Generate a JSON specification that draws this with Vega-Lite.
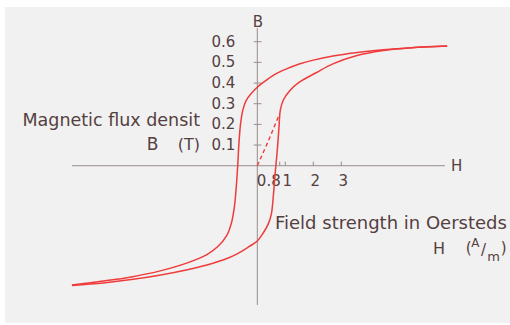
{
  "$schema": "https://vega.github.io/schema/vega-lite/v6.json",
  "width": 505,
  "height": 316,
  "autosize": {"type": "none"},
  "padding": {"left": 5, "top": 7, "right": 0, "bottom": 2},
  "background": "#ffffff",
  "view": {"fill": "#f1f1f1", "stroke": null},
  "config": {
    "text": {"font": "DejaVu Sans", "color": "#544040"}
  },
  "datasets": {
    "loop": [
      {"branch": "descending", "i": 0, "H": 6.78, "B": 0.579},
      {"branch": "descending", "i": 1, "H": 5.5, "B": 0.571},
      {"branch": "descending", "i": 2, "H": 4.5, "B": 0.561},
      {"branch": "descending", "i": 3, "H": 3.5, "B": 0.547},
      {"branch": "descending", "i": 4, "H": 2.7, "B": 0.531},
      {"branch": "descending", "i": 5, "H": 2.0, "B": 0.511},
      {"branch": "descending", "i": 6, "H": 1.5, "B": 0.492},
      {"branch": "descending", "i": 7, "H": 1.0, "B": 0.466},
      {"branch": "descending", "i": 8, "H": 0.6, "B": 0.440},
      {"branch": "descending", "i": 9, "H": 0.3, "B": 0.412},
      {"branch": "descending", "i": 10, "H": 0.0, "B": 0.380},
      {"branch": "descending", "i": 11, "H": -0.2, "B": 0.352},
      {"branch": "descending", "i": 12, "H": -0.4, "B": 0.315},
      {"branch": "descending", "i": 13, "H": -0.52, "B": 0.268},
      {"branch": "descending", "i": 14, "H": -0.6, "B": 0.200},
      {"branch": "descending", "i": 15, "H": -0.66, "B": 0.100},
      {"branch": "descending", "i": 16, "H": -0.70, "B": 0.000},
      {"branch": "descending", "i": 17, "H": -0.75, "B": -0.100},
      {"branch": "descending", "i": 18, "H": -0.82, "B": -0.200},
      {"branch": "descending", "i": 19, "H": -0.93, "B": -0.280},
      {"branch": "descending", "i": 20, "H": -1.1, "B": -0.340},
      {"branch": "descending", "i": 21, "H": -1.4, "B": -0.390},
      {"branch": "descending", "i": 22, "H": -1.8, "B": -0.430},
      {"branch": "descending", "i": 23, "H": -2.5, "B": -0.470},
      {"branch": "descending", "i": 24, "H": -3.5, "B": -0.510},
      {"branch": "descending", "i": 25, "H": -4.5, "B": -0.538},
      {"branch": "descending", "i": 26, "H": -5.5, "B": -0.558},
      {"branch": "descending", "i": 27, "H": -6.62, "B": -0.577},
      {"branch": "ascending", "i": 0, "H": -6.62, "B": -0.579},
      {"branch": "ascending", "i": 1, "H": -5.5, "B": -0.567},
      {"branch": "ascending", "i": 2, "H": -4.5, "B": -0.551},
      {"branch": "ascending", "i": 3, "H": -3.5, "B": -0.530},
      {"branch": "ascending", "i": 4, "H": -2.5, "B": -0.503},
      {"branch": "ascending", "i": 5, "H": -1.8, "B": -0.480},
      {"branch": "ascending", "i": 6, "H": -1.2, "B": -0.455},
      {"branch": "ascending", "i": 7, "H": -0.7, "B": -0.425},
      {"branch": "ascending", "i": 8, "H": -0.3, "B": -0.392},
      {"branch": "ascending", "i": 9, "H": 0.0, "B": -0.364},
      {"branch": "ascending", "i": 10, "H": 0.2, "B": -0.328},
      {"branch": "ascending", "i": 11, "H": 0.38, "B": -0.285},
      {"branch": "ascending", "i": 12, "H": 0.5, "B": -0.235},
      {"branch": "ascending", "i": 13, "H": 0.57, "B": -0.150},
      {"branch": "ascending", "i": 14, "H": 0.63, "B": -0.050},
      {"branch": "ascending", "i": 15, "H": 0.69, "B": 0.040},
      {"branch": "ascending", "i": 16, "H": 0.74, "B": 0.120},
      {"branch": "ascending", "i": 17, "H": 0.78, "B": 0.200},
      {"branch": "ascending", "i": 18, "H": 0.82, "B": 0.268},
      {"branch": "ascending", "i": 19, "H": 0.93, "B": 0.318},
      {"branch": "ascending", "i": 20, "H": 1.15, "B": 0.362},
      {"branch": "ascending", "i": 21, "H": 1.5, "B": 0.404},
      {"branch": "ascending", "i": 22, "H": 2.1, "B": 0.450},
      {"branch": "ascending", "i": 23, "H": 2.7, "B": 0.493},
      {"branch": "ascending", "i": 24, "H": 3.5, "B": 0.531},
      {"branch": "ascending", "i": 25, "H": 4.5, "B": 0.557},
      {"branch": "ascending", "i": 26, "H": 5.5, "B": 0.571},
      {"branch": "ascending", "i": 27, "H": 6.78, "B": 0.579}
    ],
    "initial": [
      {"i": 0, "H": 0.0, "B": 0.0},
      {"i": 1, "H": 0.38, "B": 0.115},
      {"i": 2, "H": 0.76, "B": 0.24}
    ],
    "bTicks": [
      {"B": 0.1, "label": "0.1"},
      {"B": 0.2, "label": "0.2"},
      {"B": 0.3, "label": "0.3"},
      {"B": 0.4, "label": "0.4"},
      {"B": 0.5, "label": "0.5"},
      {"B": 0.6, "label": "0.6"}
    ],
    "hTicks": [
      {"H": 0.8, "label": "0.8"},
      {"H": 1, "label": "1"},
      {"H": 2, "label": "2"},
      {"H": 3, "label": "3"}
    ],
    "one": [{}]
  },
  "encoding": {
    "x": {"type": "quantitative", "scale": {"domain": [-9.011, 9.025], "nice": false, "zero": false}, "axis": null},
    "y": {"type": "quantitative", "scale": {"domain": [-0.761, 0.768], "nice": false, "zero": false}, "axis": null}
  },
  "layer": [
    {
      "data": {"name": "one"},
      "mark": {"type": "rule", "color": "#9a8c8c", "strokeWidth": 1},
      "encoding": {"x": {"datum": -6.62}, "x2": {"datum": 6.70}, "y": {"datum": 0}}
    },
    {
      "data": {"name": "one"},
      "mark": {"type": "rule", "color": "#9a8c8c", "strokeWidth": 1},
      "encoding": {"x": {"datum": 0}, "y": {"datum": -0.674}, "y2": {"datum": 0.666}}
    },
    {
      "data": {"name": "bTicks"},
      "mark": {"type": "rule", "color": "#9a8c8c", "strokeWidth": 1},
      "encoding": {"x": {"datum": -0.13}, "x2": {"datum": 0.15}, "y": {"field": "B", "type": "quantitative"}}
    },
    {
      "data": {"name": "hTicks"},
      "mark": {"type": "rule", "color": "#9a8c8c", "strokeWidth": 1},
      "encoding": {"x": {"field": "H", "type": "quantitative"}, "y": {"datum": 0}, "y2": {"datum": 0.02}}
    },
    {
      "data": {"name": "bTicks"},
      "mark": {"type": "text", "align": "right", "baseline": "middle", "fontSize": 15, "dx": -22},
      "encoding": {"x": {"datum": 0}, "y": {"field": "B", "type": "quantitative"}, "text": {"field": "label"}}
    },
    {
      "data": {"name": "hTicks"},
      "transform": [{"filter": "datum.H >= 1"}],
      "mark": {"type": "text", "align": "center", "baseline": "middle", "fontSize": 15, "dx": 2, "dy": 15},
      "encoding": {"x": {"field": "H", "type": "quantitative"}, "y": {"datum": 0}, "text": {"field": "label"}}
    },
    {
      "data": {"name": "hTicks"},
      "transform": [{"filter": "datum.H < 1"}],
      "mark": {"type": "text", "align": "right", "baseline": "middle", "fontSize": 15, "dx": 1, "dy": 15},
      "encoding": {"x": {"field": "H", "type": "quantitative"}, "y": {"datum": 0}, "text": {"field": "label"}}
    },
    {
      "data": {"name": "initial"},
      "mark": {"type": "line", "color": "#ef3b3b", "strokeWidth": 1.4, "strokeDash": [4, 3]},
      "encoding": {"x": {"field": "H", "type": "quantitative"}, "y": {"field": "B", "type": "quantitative"}, "order": {"field": "i"}}
    },
    {
      "data": {"name": "loop"},
      "mark": {"type": "line", "color": "#ef3b3b", "strokeWidth": 1.5, "interpolate": "catmull-rom"},
      "encoding": {
        "x": {"field": "H", "type": "quantitative"},
        "y": {"field": "B", "type": "quantitative"},
        "detail": {"field": "branch"},
        "order": {"field": "i"}
      }
    },
    {
      "data": {"name": "one"},
      "mark": {"type": "text", "text": "B", "fontSize": 15, "align": "center", "baseline": "middle"},
      "encoding": {"x": {"datum": 0.02}, "y": {"datum": 0.695}}
    },
    {
      "data": {"name": "one"},
      "mark": {"type": "text", "text": "H", "fontSize": 15, "align": "center", "baseline": "middle"},
      "encoding": {"x": {"datum": 7.12}, "y": {"datum": 0}}
    },
    {
      "data": {"name": "one"},
      "mark": {"type": "text", "text": "Magnetic flux densit", "fontSize": 17.5, "align": "right", "baseline": "middle"},
      "encoding": {"x": {"datum": -2.046}, "y": {"datum": 0.214}}
    },
    {
      "data": {"name": "one"},
      "mark": {"type": "text", "text": "B", "fontSize": 17, "align": "center", "baseline": "middle"},
      "encoding": {"x": {"datum": -3.74}, "y": {"datum": 0.1}}
    },
    {
      "data": {"name": "one"},
      "mark": {"type": "text", "text": "(T)", "fontSize": 16, "align": "right", "baseline": "middle"},
      "encoding": {"x": {"datum": -2.046}, "y": {"datum": 0.1}}
    },
    {
      "data": {"name": "one"},
      "mark": {"type": "text", "text": "Field strength in Oersteds", "fontSize": 18, "align": "left", "baseline": "middle"},
      "encoding": {"x": {"datum": 0.632}, "y": {"datum": -0.282}}
    },
    {
      "data": {"name": "one"},
      "mark": {"type": "text", "text": "H", "fontSize": 16, "align": "center", "baseline": "middle"},
      "encoding": {"x": {"datum": 6.49}, "y": {"datum": -0.403}}
    },
    {
      "data": {"name": "one"},
      "mark": {"type": "text", "text": "(", "fontSize": 15, "align": "center", "baseline": "middle"},
      "encoding": {"x": {"datum": 7.55}, "y": {"datum": -0.40}}
    },
    {
      "data": {"name": "one"},
      "mark": {"type": "text", "text": "A", "fontSize": 12, "align": "center", "baseline": "middle"},
      "encoding": {"x": {"datum": 7.79}, "y": {"datum": -0.372}}
    },
    {
      "data": {"name": "one"},
      "mark": {"type": "text", "text": "/", "fontSize": 15, "align": "center", "baseline": "middle"},
      "encoding": {"x": {"datum": 8.08}, "y": {"datum": -0.41}}
    },
    {
      "data": {"name": "one"},
      "mark": {"type": "text", "text": "m", "fontSize": 13, "align": "center", "baseline": "middle"},
      "encoding": {"x": {"datum": 8.44}, "y": {"datum": -0.44}}
    },
    {
      "data": {"name": "one"},
      "mark": {"type": "text", "text": ")", "fontSize": 15, "align": "center", "baseline": "middle"},
      "encoding": {"x": {"datum": 8.8}, "y": {"datum": -0.40}}
    }
  ]
}
